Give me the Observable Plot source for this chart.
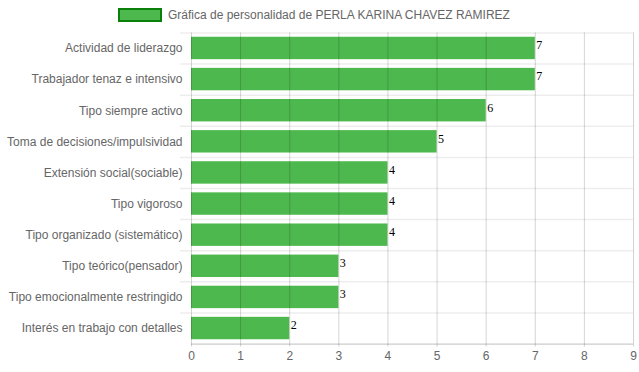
<!DOCTYPE html>
<html>
<head>
<meta charset="utf-8">
<script src="https://cdn.jsdelivr.net/npm/d3@7"></script>
<script src="https://cdn.jsdelivr.net/npm/@observablehq/plot@0.6"></script>
<style>
  html, body { margin: 0; padding: 0; background: #fff; }
  #wrap { position: relative; width: 639px; height: 372px; font-family: "Liberation Sans", Arial, sans-serif; }
  #legend { position: absolute; left: 118px; top: 8px; display: flex; align-items: center; font-size: 12px; color: #666; white-space: nowrap; }
  #legend .box { width: 40px; height: 10px; background: #4db84d; border: 2px solid #0a7f0a; margin-right: 6px; }
  #chart { position: absolute; left: 0; top: 0; }
</style>
</head>
<body>
<div id="wrap">
  <div id="chart"></div>
  <div id="legend"><span class="box"></span><span id="legendText"></span></div>
</div>
<script>
const title = "Gráfica de personalidad de PERLA KARINA CHAVEZ RAMIREZ";
const categories = [
  "Actividad de liderazgo",
  "Trabajador tenaz e intensivo",
  "Tipo siempre activo",
  "Toma de decisiones/impulsividad",
  "Extensión social(sociable)",
  "Tipo vigoroso",
  "Tipo organizado (sistemático)",
  "Tipo teórico(pensador)",
  "Tipo emocionalmente restringido",
  "Interés en trabajo con detalles"
];
const values = [7, 7, 6, 5, 4, 4, 4, 3, 3, 2];
const xTicks = [0, 1, 2, 3, 4, 5, 6, 7, 8, 9];

document.getElementById("legendText").textContent = title;

const data = categories.map((c, i) => ({category: c, value: values[i]}));
const halfStep = 31.12 / 2;

const chart = Plot.plot({
  width: 639,
  height: 372,
  marginLeft: 191,
  marginRight: 6,
  marginTop: 32.4,
  marginBottom: 28.4,
  style: {fontFamily: "'Liberation Sans', Arial, sans-serif", fontSize: "12px", color: "#666", background: "#fff"},
  x: {domain: [0, 9], ticks: xTicks, label: null},
  y: {domain: categories, paddingInner: 0.28, paddingOuter: 0.14, round: false, label: null},
  marks: [
    Plot.ruleY(categories, {y: d => d, dy: -halfStep, stroke: "#000", strokeOpacity: 0.07, strokeWidth: 1.5, insetLeft: -11}),
    Plot.barX(data, {y: "category", x: "value", fill: "#4db84d"}),
    Plot.ruleX(xTicks, {x: d => d, stroke: "#000", strokeOpacity: 0.17, insetBottom: -3}),
    Plot.ruleY([categories[categories.length - 1]], {y: d => d, dy: halfStep, stroke: "#000", strokeOpacity: 0.25}),
    Plot.text(data, {y: "category", x: "value", text: d => String(d.value), textAnchor: "start", dx: 1, dy: -3, fill: "#000", fontFamily: "'Liberation Serif', 'Times New Roman', serif", fontSize: 12}),
    Plot.axisY({tickSize: 0, tickPadding: 9, fill: "#666", fontSize: 12}),
    Plot.axisX({ticks: xTicks, tickSize: 0, tickPadding: 7, fill: "#666", fontSize: 12, tickFormat: d => String(d)})
  ]
});
document.getElementById("chart").appendChild(chart);
</script>
</body>
</html>
